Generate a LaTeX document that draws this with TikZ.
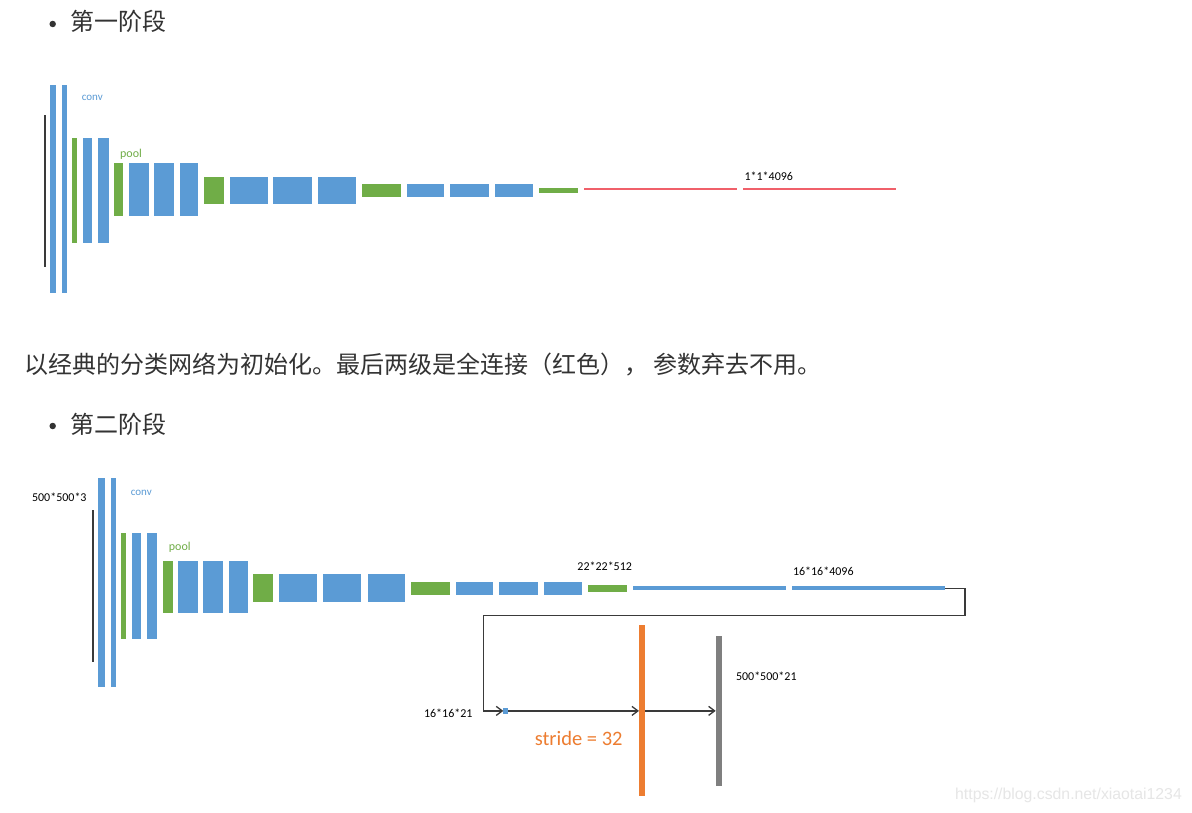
\documentclass[tikz,border=0pt]{standalone}
\usepackage{fontspec}
\setmainfont{Carlito}
\newfontfamily\cjk{Noto Sans CJK SC}
\newfontfamily\wmfont{Liberation Sans}
\usetikzlibrary{arrows.meta}
\definecolor{cBlue}{HTML}{5B9BD5}
\definecolor{cGreen}{HTML}{70AD47}
\definecolor{cOrange}{HTML}{ED7D31}
\definecolor{cGray}{HTML}{7F7F7F}
\definecolor{cRed}{HTML}{F0606A}
\definecolor{cText}{HTML}{333333}
\definecolor{cLine}{HTML}{3A3A3A}
\definecolor{cMark}{HTML}{E6E6E6}
\tikzset{
  wh/.style 2 args={minimum width=#1pt, minimum height=#2pt},
  barbase/.style={rectangle, inner sep=0pt, outer sep=0pt, draw=none},
  bluebar/.style={barbase, fill=cBlue},
  greenbar/.style={barbase, fill=cGreen},
  redbar/.style={barbase, fill=cRed},
  blkbar/.style={barbase, fill=cLine},
  orangebar/.style={barbase, fill=cOrange},
  graybar/.style={barbase, fill=cGray},
  dimlabel/.style={inner sep=0pt, font=\fontsize{12}{12}\selectfont, text=black},
  convlabel/.style={inner sep=0pt, font=\fontsize{11}{11}\selectfont, text=cBlue},
  poollabel/.style={inner sep=0pt, font=\fontsize{12}{12}\selectfont, text=cGreen},
  cjktext/.style={inner sep=0pt, anchor=base west, font=\cjk\fontsize{24}{24}\selectfont, text=cText},
  bulletdot/.style={circle, fill=cText, inner sep=0pt, minimum size=6.5pt},
  conn/.style={draw=cLine, line width=1.6pt},
  arr/.style={conn, -{Straight Barb[length=6pt,width=9pt,line width=1.3pt]}},
}
\begin{document}
\begin{tikzpicture}[x=1pt,y=-1pt]
\path[use as bounding box, fill=white] (0,0) rectangle (1192,813);

% ---------- headings and text ----------
\node[bulletdot] (bul1) at (52.7,24) {};
\node[cjktext] (h1) at (70,31) {第一阶段};
\node[cjktext] (para) at (24,373) {以经典的分类网络为初始化。最后两级是全连接（红色）， 参数弃去不用。};
\node[bulletdot] (bul2) at (52.7,426) {};
\node[cjktext] (h2) at (70,433) {第二阶段};

% ---------- stage 1 ----------
\node[blkbar, wh={2}{152}] (ak) at (44.5,191) {};
\node[bluebar, wh={6}{208}] (a1) at (53,189) {};
\node[bluebar, wh={5}{208}] (a2) at (64,189) {};
\node[greenbar, wh={4.5}{105.5}] (a3) at (74.5,190.3) {};
\node[bluebar, wh={9.6}{105.5}] (a4) at (87.5,190.3) {};
\node[bluebar, wh={11}{105.5}] (a5) at (103.2,190.3) {};
\node[greenbar, wh={9.3}{52.7}] (a6) at (118.7,189.7) {};
\node[bluebar, wh={20}{52.7}] (a7) at (139,189.7) {};
\node[bluebar, wh={20}{52.7}] (a8) at (164.3,189.7) {};
\node[bluebar, wh={18.3}{52.7}] (a9) at (189.2,189.7) {};
\node[greenbar, wh={19.7}{27.3}] (a10) at (214.2,190.3) {};
\node[bluebar, wh={37.7}{27.3}] (a11) at (248.8,190.3) {};
\node[bluebar, wh={39}{27.3}] (a12) at (292.8,190.3) {};
\node[bluebar, wh={37.7}{27.3}] (a13) at (337.2,190.3) {};
\node[greenbar, wh={39.3}{12.4}] (a14) at (381.3,190.5) {};
\node[bluebar, wh={37.6}{12.4}] (a15) at (425.5,190.5) {};
\node[bluebar, wh={39.3}{12.4}] (a16) at (469.7,190.5) {};
\node[bluebar, wh={38.3}{12.4}] (a17) at (514.2,190.5) {};
\node[greenbar, wh={38.7}{5.6}] (a18) at (558.3,190.5) {};
\node[redbar, wh={153.2}{2}] (a19) at (660.1,189.5) {};
\node[redbar, wh={153.3}{2}] (a20) at (819.3,189.5) {};
\node[convlabel] (aconv) at (92.3,98) {conv};
\node[poollabel] (apool) at (131,154) {pool};
\node[dimlabel] (adim) at (768.8,176.7) {1*1*4096};

% ---------- stage 2 ----------
\node[blkbar, wh={2}{152}] (bk) at (93.3,586) {};
\node[bluebar, wh={6.7}{208.4}] (b1) at (101.7,582.5) {};
\node[bluebar, wh={5}{208.4}] (b2) at (113.2,582.5) {};
\node[greenbar, wh={5}{105.7}] (b3) at (123.5,586.2) {};
\node[bluebar, wh={9}{105.7}] (b4) at (136.2,586.2) {};
\node[bluebar, wh={10.6}{105.7}] (b5) at (152,586.2) {};
\node[greenbar, wh={9.2}{52.6}] (b6) at (167.9,587) {};
\node[bluebar, wh={19.4}{52.6}] (b7) at (188,587) {};
\node[bluebar, wh={20}{52.6}] (b8) at (213.3,587) {};
\node[bluebar, wh={18.7}{52.6}] (b9) at (238.3,587) {};
\node[greenbar, wh={19.4}{27.2}] (b10) at (263,587.9) {};
\node[bluebar, wh={37.7}{27.2}] (b11) at (297.8,587.9) {};
\node[bluebar, wh={38.3}{27.2}] (b12) at (341.8,587.9) {};
\node[bluebar, wh={37.3}{27.2}] (b13) at (386.3,587.9) {};
\node[greenbar, wh={39}{12.7}] (b14) at (430.5,588.6) {};
\node[bluebar, wh={37.3}{12.7}] (b15) at (474.7,588.6) {};
\node[bluebar, wh={39}{12.7}] (b16) at (518.8,588.6) {};
\node[bluebar, wh={37.4}{12.7}] (b17) at (563,588.6) {};
\node[greenbar, wh={38.4}{6.5}] (b18) at (607.5,588.6) {};
\node[bluebar, wh={152.4}{4}] (b19) at (709.5,588.3) {};
\node[bluebar, wh={152.7}{4}] (b20) at (868.6,588.3) {};
\node[dimlabel] (bin) at (59.3,497.3) {500*500*3};
\node[convlabel] (bconv) at (141.3,492.7) {conv};
\node[poollabel] (bpool) at (179.8,547.3) {pool};
\node[dimlabel] (bdim1) at (604.7,566.7) {22*22*512};
\node[dimlabel] (bdim2) at (823.3,571) {16*16*4096};

% score, upsampling, output
\node[bluebar, wh={5}{6.5}] (sq) at (505.8,710.9) {};
\node[orangebar, wh={6}{171}] (ob) at (642,710.5) {};
\node[graybar, wh={6}{149.7}] (gb) at (718.7,710.9) {};
\node[dimlabel] (sqdim) at (448.3,713.3) {16*16*21};
\node[dimlabel] (gbdim) at (766.3,676.7) {500*500*21};
\node[inner sep=0pt, font=\fontsize{20.5}{20.5}\selectfont, text=cOrange] (stride) at (578.7,738.3) {stride = 32};

\coordinate (k1) at (965,615.5);
\coordinate (k2) at (483.5,615.5);
\draw[arr] (b20.east) -| (k1) -- (k2) |- (sq.west);
\draw[arr] (sq.east) -- (sq.east -| ob.west);
\draw[arr] (sq.east -| ob.east) -- (sq.east -| gb.west);

% watermark
\node[inner sep=0pt, font=\wmfont\fontsize{15.8}{15.8}\selectfont, text=cMark] (wm) at (1068.5,795) {https://blog.csdn.net/xiaotai1234};
\end{tikzpicture}
\end{document}
